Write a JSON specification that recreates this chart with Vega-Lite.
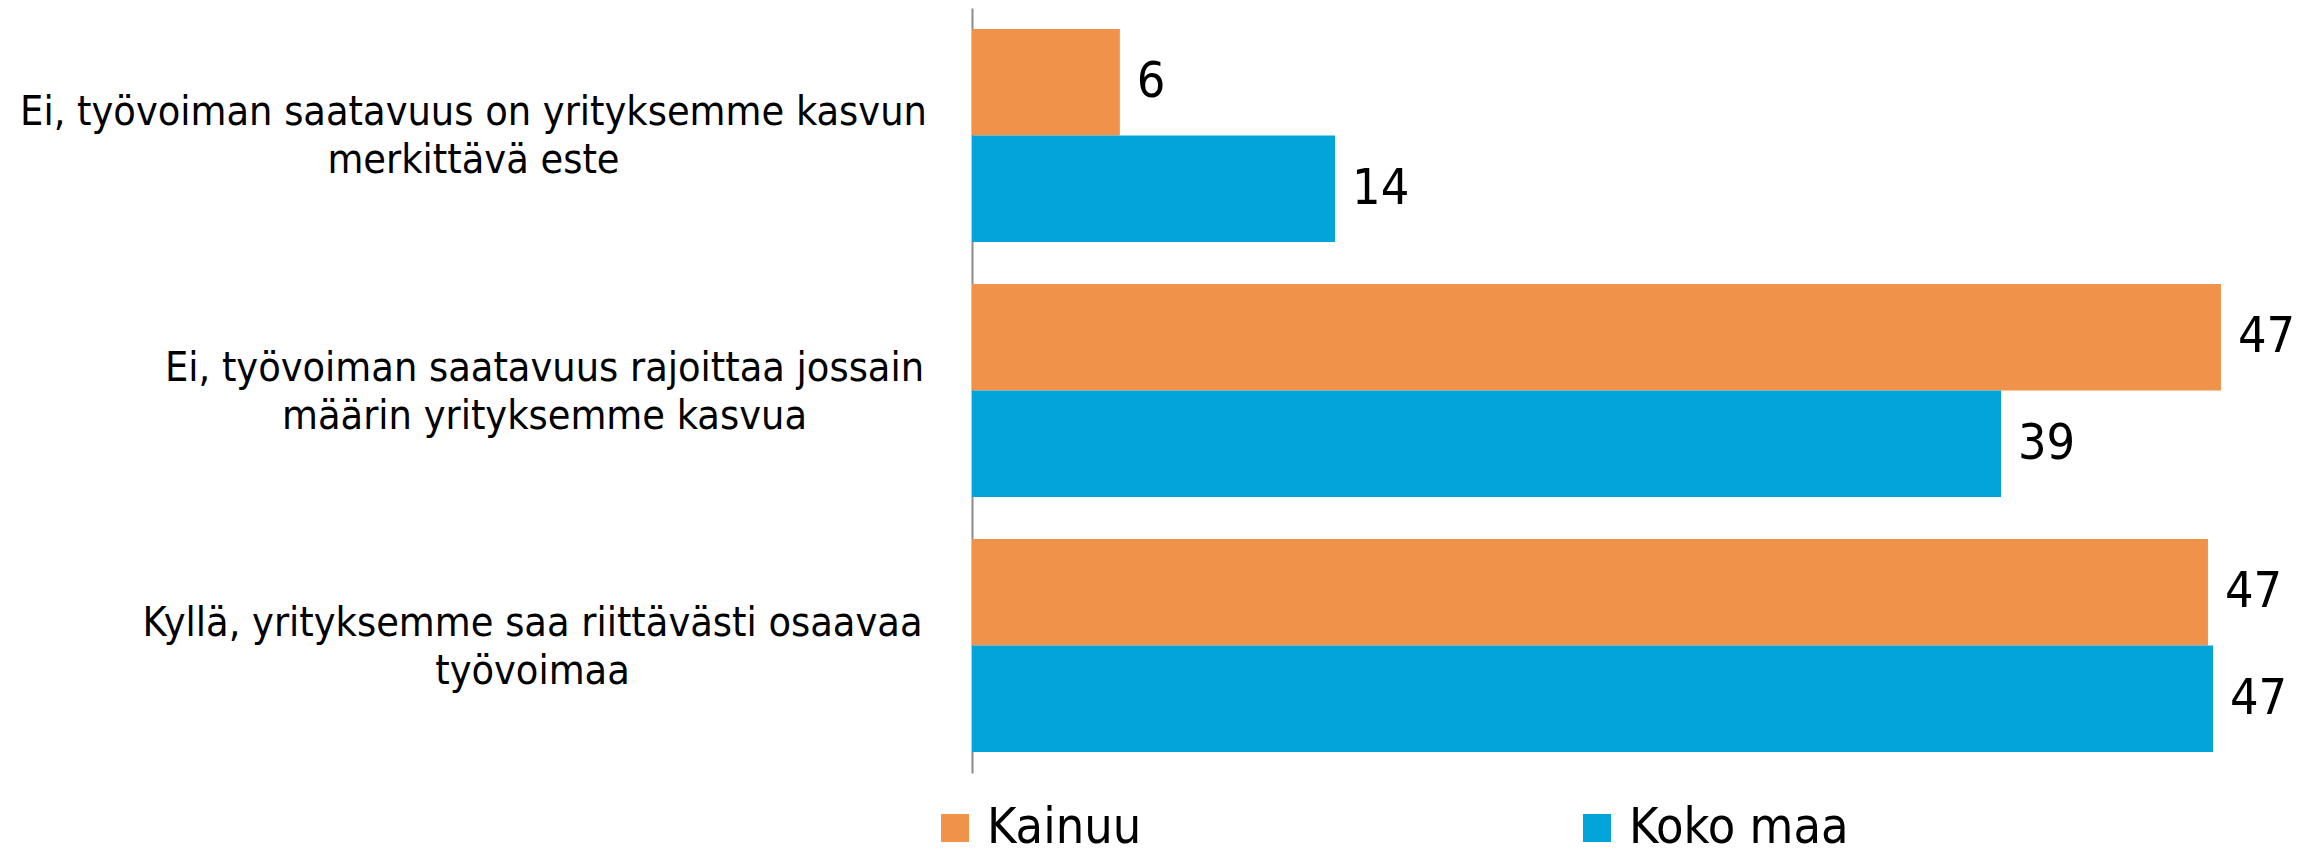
{
  "$schema": "https://vega.github.io/schema/vega-lite/v6.json",
  "autosize": "none",
  "padding": {"left": 972, "top": 8, "right": 18, "bottom": 78},
  "width": 1325,
  "height": 765,
  "background": "white",
  "config": {
    "view": {"stroke": null},
    "font": "DejaVu Sans Condensed",
    "text": {"font": "DejaVu Sans Condensed"}
  },
  "data": {
    "values": [
      {"kysymys": "Ei, työvoiman saatavuus on yrityksemme kasvun\nmerkittävä este", "alue": "Kainuu", "osuus": 5.58},
      {"kysymys": "Ei, työvoiman saatavuus on yrityksemme kasvun\nmerkittävä este", "alue": "Koko maa", "osuus": 13.7},
      {"kysymys": "Ei, työvoiman saatavuus rajoittaa jossain\nmäärin yrityksemme kasvua", "alue": "Kainuu", "osuus": 47.13},
      {"kysymys": "Ei, työvoiman saatavuus rajoittaa jossain\nmäärin yrityksemme kasvua", "alue": "Koko maa", "osuus": 38.83},
      {"kysymys": "Kyllä, yrityksemme saa riittävästi osaavaa\ntyövoimaa", "alue": "Kainuu", "osuus": 46.64},
      {"kysymys": "Kyllä, yrityksemme saa riittävästi osaavaa\ntyövoimaa", "alue": "Koko maa", "osuus": 46.83}
    ]
  },
  "encoding": {
    "y": {
      "field": "kysymys",
      "type": "nominal",
      "sort": null,
      "scale": {"paddingInner": 0.165, "paddingOuter": 0.082},
      "axis": {
        "title": null,
        "ticks": false,
        "domainColor": "#8c8c8c",
        "domainWidth": 2,
        "labelExpr": "split(datum.label, '\\n')",
        "labelAlign": "center",
        "labelBaseline": "alphabetic",
        "labelOffset": -10,
        "labelFont": "DejaVu Sans Condensed",
        "labelFontSize": 41,
        "labelLineHeight": 48,
        "labelColor": "black",
        "labelLimit": 0,
        "labelPadding": {
          "condition": [
            {"test": "indexof(datum.value, 'on yrityksemme') >= 0", "value": 499},
            {"test": "indexof(datum.value, 'rajoittaa') >= 0", "value": 428}
          ],
          "value": 440
        }
      }
    },
    "yOffset": {"field": "alue", "type": "nominal", "sort": ["Kainuu", "Koko maa"], "scale": {"paddingInner": 0, "paddingOuter": 0}},
    "x": {
      "field": "osuus",
      "type": "quantitative",
      "scale": {"domain": [0, 50], "nice": false},
      "axis": null
    }
  },
  "layer": [
    {
      "mark": {"type": "bar"},
      "encoding": {
        "color": {
          "field": "alue",
          "type": "nominal",
          "scale": {"domain": ["Kainuu", "Koko maa"], "range": ["#F1924B", "#02A4D9"]},
          "legend": {
            "title": null,
            "orient": "none",
            "direction": "horizontal",
            "columns": 2,
            "legendX": -42,
            "legendY": 795,
            "symbolType": "square",
            "symbolSize": 784,
            "symbolStrokeWidth": 0,
            "labelFont": "DejaVu Sans Condensed",
            "labelFontSize": 50,
            "labelColor": "black",
            "labelOffset": 7,
            "columnPadding": 430,
            "labelLimit": 0
          }
        }
      }
    },
    {
      "mark": {"type": "text", "align": "left", "baseline": "middle", "dx": 17, "fontSize": 50, "font": "DejaVu Sans Condensed", "color": "black"},
      "encoding": {
        "text": {"field": "osuus", "type": "quantitative", "format": ".0f"}
      }
    }
  ]
}
